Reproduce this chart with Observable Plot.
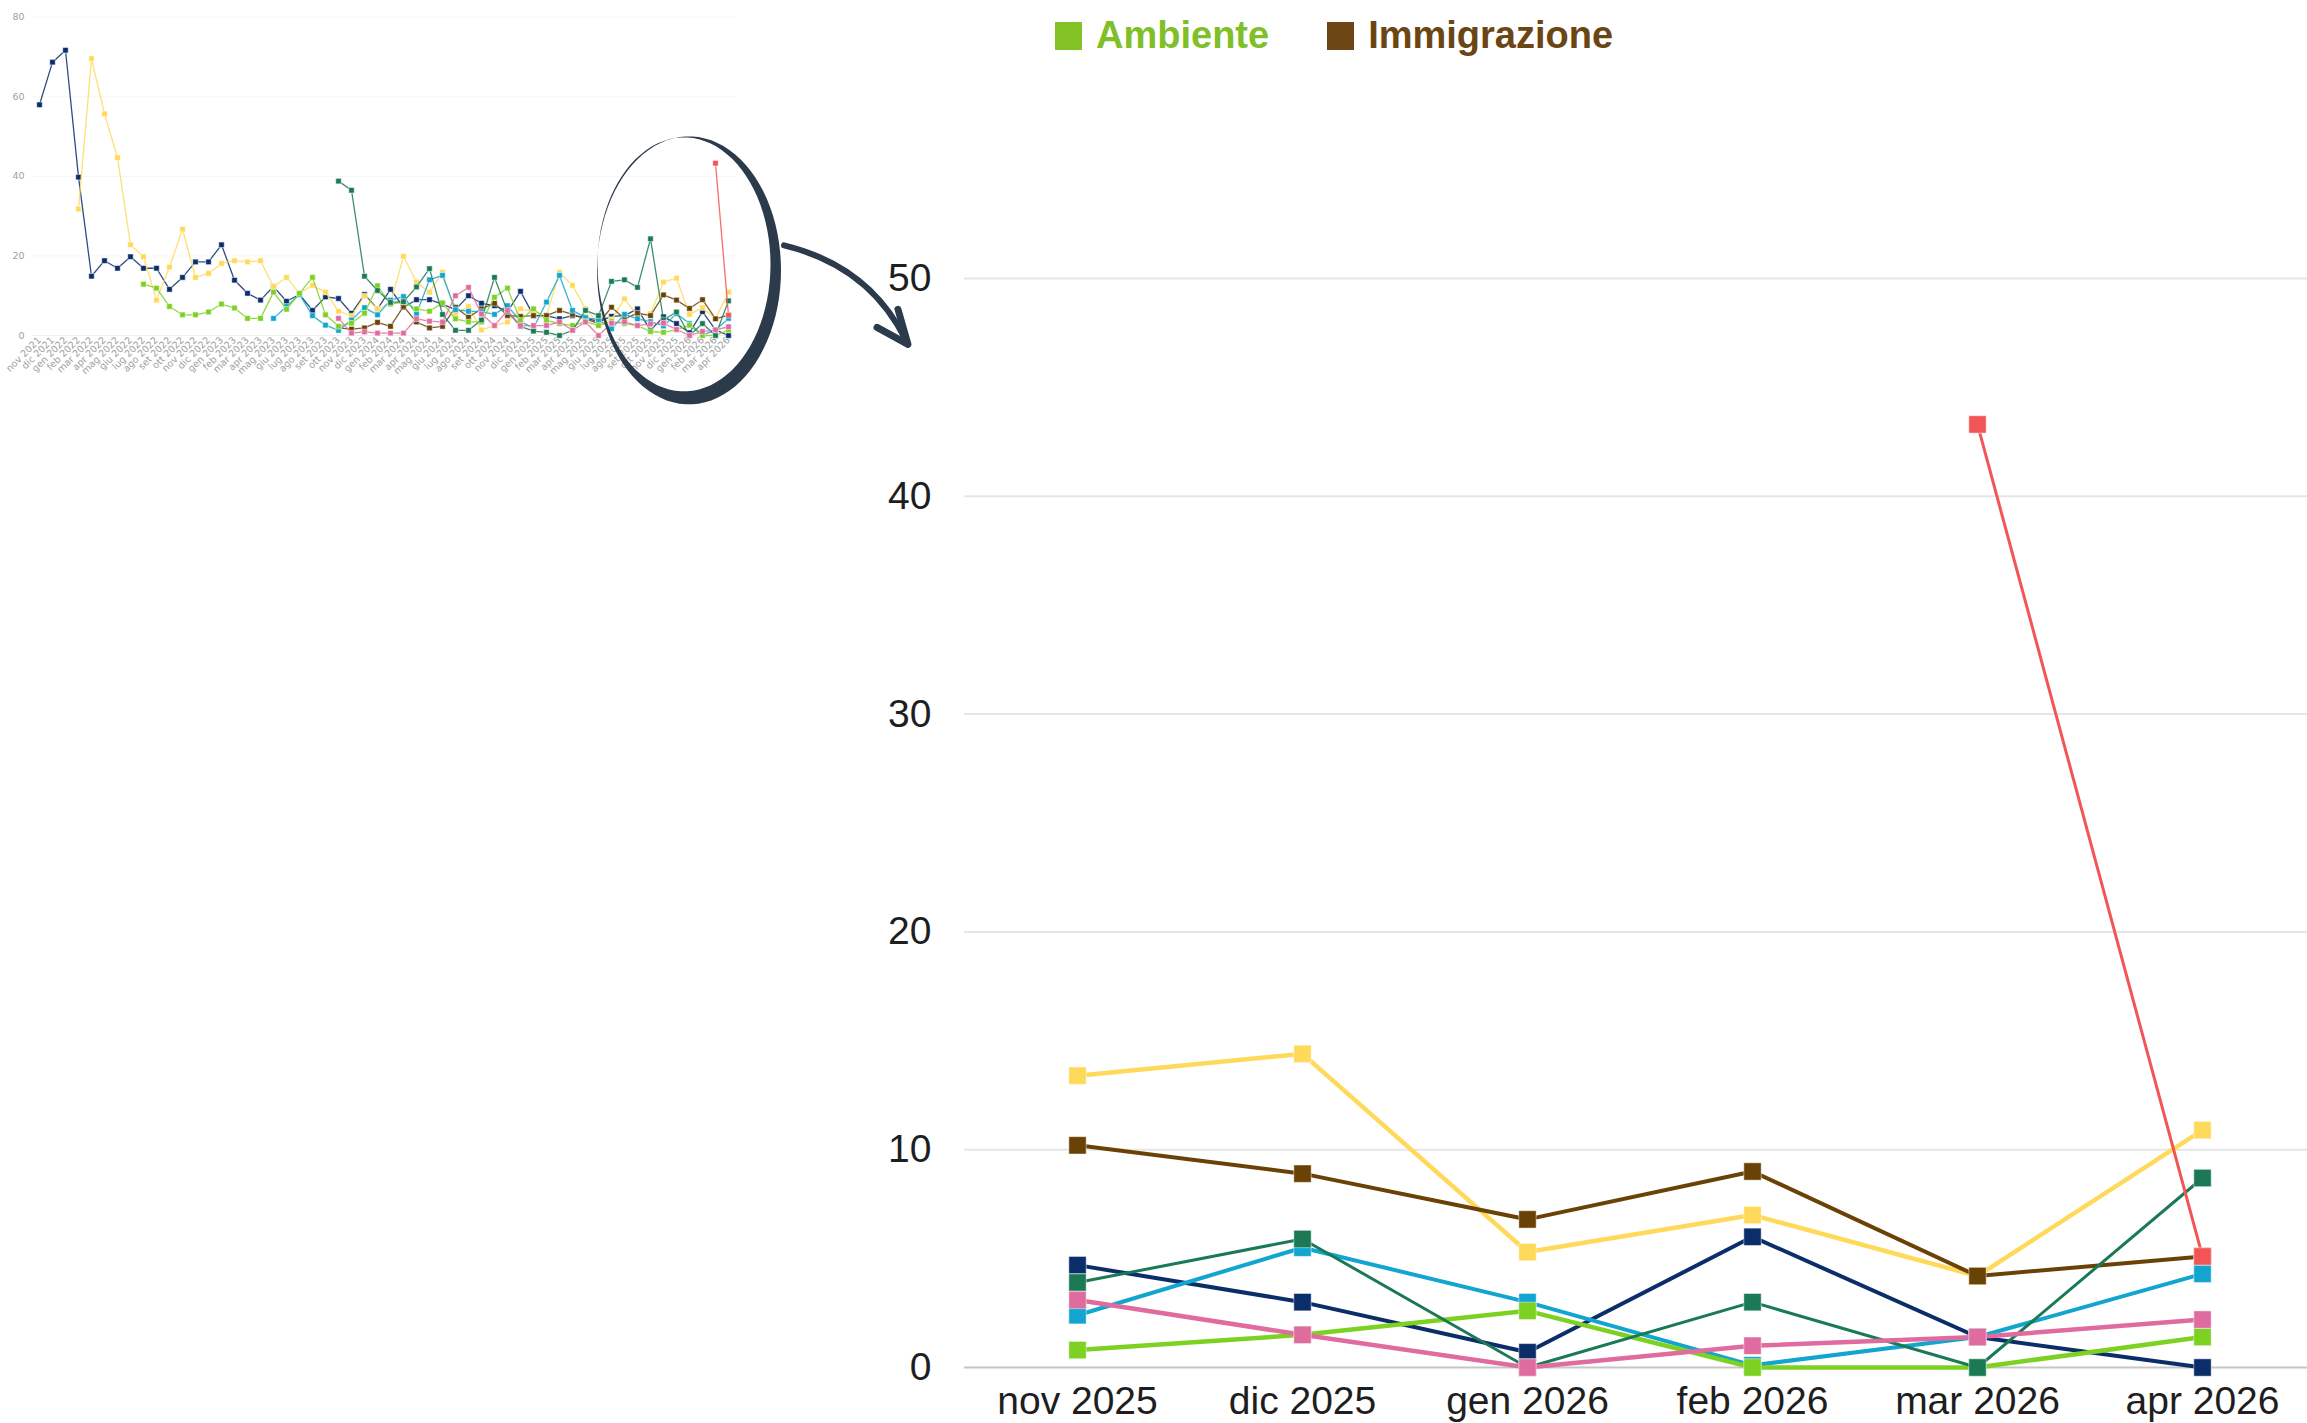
<!DOCTYPE html>
<html><head><meta charset="utf-8">
<script src="https://cdn.jsdelivr.net/npm/d3@7"></script>
<script src="https://cdn.jsdelivr.net/npm/@observablehq/plot@0.6"></script>
<style>
html,body{margin:0;padding:0;background:#fff;}
#wrap{position:relative;width:2307px;height:1423px;overflow:hidden;background:#fff;}
#legend{position:absolute;left:1055px;top:14px;display:flex;align-items:center;font-family:"Liberation Sans",Arial,sans-serif;font-weight:bold;font-size:38px;}
#legend .item{display:flex;align-items:center;margin-right:58px;}
#legend .sw{display:inline-block;width:27px;height:28px;margin-right:14px;}
#main{position:absolute;left:0;top:70px;}
#inset{position:absolute;left:0;top:0;}
#annot{position:absolute;left:0;top:0;pointer-events:none;}
</style>
</head><body>
<div id="wrap">
  <div id="main"></div>
  <div id="inset"></div>
  <div id="legend"></div>
</div>
<script>
// ---- DATA ----
const months = ["nov 2021","dic 2021","gen 2022","feb 2022","mar 2022","apr 2022","mag 2022","giu 2022","lug 2022","ago 2022","set 2022","ott 2022","nov 2022","dic 2022","gen 2023","feb 2023","mar 2023","apr 2023","mag 2023","giu 2023","lug 2023","ago 2023","set 2023","ott 2023","nov 2023","dic 2023","gen 2024","feb 2024","mar 2024","apr 2024","mag 2024","giu 2024","lug 2024","ago 2024","set 2024","ott 2024","nov 2024","dic 2024","gen 2025","feb 2025","mar 2025","apr 2025","mag 2025","giu 2025","lug 2025","ago 2025","set 2025","ott 2025","nov 2025","dic 2025","gen 2026","feb 2026","mar 2026","apr 2026"];
const zoomMonths = ["nov 2025","dic 2025","gen 2026","feb 2026","mar 2026","apr 2026"];
const yTicksMain = [0,10,20,30,40,50];
const yTicksInset = [0,20,40,60,80];

// each series: first month, then monthly values
const serieBluDa = "nov 2021";
const serieBlu = [58,68.7,71.7,39.8,14.9,18.8,16.9,19.8,16.9,16.9,11.6,14.6,18.5,18.5,22.8,13.9,10.6,8.9,12.3,8.6,10.3,6.3,9.7,9.3,5.6,10.3,6.7,11.6,7.1,9.0,9.0,7.9,6.5,10.0,8.1,7.5,6.0,11.1,5.0,5.0,4.2,5.0,4.5,3.4,4.8,5.0,6.7,1.3,4.7,3.0,0.7,6.0,1.4,0];
const serieGiallaDa = "feb 2022";
const serieGialla = [31.8,69.6,55.7,44.7,22.8,19.8,8.9,17.2,26.7,14.6,15.6,18.1,18.8,18.5,18.8,12.3,14.6,10.6,12.6,10.9,6.1,4.9,9.9,6.7,8.0,19.9,13.4,10.9,15.9,5.4,7.3,1.4,2.5,3.4,6.7,6.0,5.0,15.9,12.6,6.7,3.0,4.0,9.2,5.0,5.5,13.4,14.4,5.3,7.0,4.2,10.9];
const ambienteDa = "lug 2022";
const ambiente = [12.9,11.9,7.3,5.2,5.2,5.9,7.9,6.9,4.3,4.3,10.9,6.6,10.6,14.6,5.2,2.3,3.1,5.6,12.5,7.9,8.4,6.7,6.1,8.2,4.2,3.4,3.4,9.6,11.9,3.8,6.7,3.8,3.0,2.5,3.5,2.5,3.5,3.0,2.5,1.0,0.8,1.5,2.6,0,0,1.4];
const serieAzzurraDa = "mag 2023";
const serieAzzurra = [4.3,7.3,10.3,5.0,2.6,1.3,3.9,7.0,5.2,8.9,9.8,5.5,14.0,15.1,6.5,6.1,6.0,5.3,7.5,3.5,1.9,8.4,15.1,6.3,4.5,4.0,1.7,5.3,4.2,3.5,2.4,5.5,3.0,0.1,1.4,4.3];
const serieVerdeScuroDa = "ott 2023";
const serieVerdeScuro = [38.8,36.5,14.9,11.3,8.3,8.5,12.2,16.8,5.3,1.3,1.3,3.9,14.6,6.0,2.3,1.1,0.8,0,1.3,6.3,5.0,13.6,14.0,12.1,24.3,3.9,5.9,0,3.0,0,8.7];
const immigrazioneDa = "ott 2023";
const immigrazione = [1.9,1.6,1.9,3.3,2.3,7.3,3.4,1.9,2.3,7.1,4.6,6.7,8.1,5.0,4.8,5.0,5.0,6.3,5.3,4.2,3.0,7.1,4.2,5.6,5.0,10.2,8.9,6.8,9.0,4.2,5.1];
const serieRosaDa = "ott 2023";
const serieRosa = [4.3,0.6,0.9,0.6,0.6,0.6,4.2,3.6,3.4,10.0,12.1,5.4,2.5,6.3,2.5,2.5,2.5,3.4,1.3,3.4,0,3.1,3.4,2.5,2.9,3.1,1.5,0,1.0,1.4,2.2];
const serieRossaDa = "mar 2026";
const serieRossa = [43.3,5.1];

const legendNames = ["Ambiente","Immigrazione"];

// ---- STYLE ----
const seriesDefs = [
  {key:"blu", start:serieBluDa, values:serieBlu, color:"#0b2e6b", w:4},
  {key:"gialla", start:serieGiallaDa, values:serieGialla, color:"#ffd95a", w:4.5},
  {key:"Immigrazione", start:immigrazioneDa, values:immigrazione, color:"#6b4206", w:4},
  {key:"azzurra", start:serieAzzurraDa, values:serieAzzurra, color:"#12a5cf", w:4},
  {key:"Ambiente", start:ambienteDa, values:ambiente, color:"#7cd122", w:4.5},
  {key:"verdeScuro", start:serieVerdeScuroDa, values:serieVerdeScuro, color:"#1b7a55", w:3},
  {key:"rosa", start:serieRosaDa, values:serieRosa, color:"#e06b9f", w:4.5},
  {key:"rossa", start:serieRossaDa, values:serieRossa, color:"#f25555", w:3}
];
const legendColors = {"Ambiente":{sw:"#85c226", txt:"#80bf27"}, "Immigrazione":{sw:"#6b4513", txt:"#6b4513"}};

const rows = [];
for (const s of seriesDefs) {
  const i0 = months.indexOf(s.start);
  s.values.forEach((v, k) => rows.push({serie:s.key, month:months[i0+k], value:v}));
}

// ---- MAIN CHART ----
const mainRows = rows.filter(d => zoomMonths.includes(d.month));
const mainMarks = [
  Plot.ruleY(yTicksMain.filter(t => t > 0), {stroke:"#e6e6e6", strokeWidth:2}),
  Plot.ruleY([0], {stroke:"#c6c6c6", strokeWidth:2}),
  Plot.axisX({tickSize:0, tickPadding:19, label:null}),
  Plot.axisY({ticks:yTicksMain, tickSize:0, tickPadding:33, label:null})
];
for (const s of seriesDefs) {
  const d = mainRows.filter(r => r.serie === s.key);
  mainMarks.push(Plot.line(d, {x:"month", y:"value", stroke:s.color, strokeWidth:s.w}));
  mainMarks.push(Plot.dot(d, {x:"month", y:"value", symbol:"square", r:9.8, fill:s.color, stroke:"#ffffff", strokeWidth:0.8, strokeOpacity:0.6}));
}
const mainChart = Plot.plot({
  width:2307, height:1353,
  marginLeft:964, marginRight:0, marginTop:0, marginBottom:56,
  x:{type:"point", domain:zoomMonths, range:[1075, 2203], padding:0},
  y:{domain:[0,50], range:[1297, 208]},
  style:{fontFamily:"'Liberation Sans', Arial, sans-serif", fontSize:"39px", color:"#1e1e1e", background:"transparent"},
  marks:mainMarks
});
document.getElementById("main").appendChild(mainChart);

// ---- INSET (full series thumbnail) ----
const insetMarks = [
  Plot.ruleY(yTicksInset.filter(t => t > 0), {stroke:"#f6f6f6"}),
  Plot.ruleY([0], {stroke:"#efefef"}),
  Plot.axisX({tickSize:0, tickPadding:3, tickRotate:-45, label:null}),
  Plot.axisY({ticks:yTicksInset, tickSize:0, tickPadding:8, label:null})
];
for (const s of seriesDefs) {
  const d = rows.filter(r => r.serie === s.key);
  insetMarks.push(Plot.line(d, {x:"month", y:"value", stroke:s.color, strokeWidth:1.3, strokeOpacity:0.85}));
  insetMarks.push(Plot.dot(d, {x:"month", y:"value", symbol:"square", r:3.1, fill:s.color, stroke:"#ffffff", strokeWidth:0.5}));
}
const inset = Plot.plot({
  width:760, height:420,
  marginLeft:32, marginRight:25, marginTop:10, marginBottom:85,
  x:{type:"point", domain:months, range:[38.7, 727.7], padding:0},
  y:{domain:[0,80], range:[335, 16.7]},
  style:{fontFamily:"'DejaVu Sans', Verdana, sans-serif", fontSize:"9.5px", color:"#a0a0a0", background:"transparent"},
  marks:insetMarks
});
document.getElementById("inset").appendChild(inset);

// ---- LEGEND ----
const leg = document.getElementById("legend");
for (const n of legendNames) {
  const it = document.createElement("span"); it.className = "item";
  const sw = document.createElement("span"); sw.className = "sw"; sw.style.background = legendColors[n].sw;
  const tx = document.createElement("span"); tx.textContent = n; tx.style.color = legendColors[n].txt;
  it.appendChild(sw); it.appendChild(tx); leg.appendChild(it);
}

// ---- ANNOTATION (circle around last months of inset + arrow) ----
const sx = inset.scale("x"), sy = inset.scale("y");
const cx = sx.apply("gen 2026") - 3, cy = sy.apply(17);
const svg = d3.select("#wrap").append("svg").attr("id","annot").attr("width",2307).attr("height",1423);
function ell(x, y, rx, ry, p) {
  p.moveTo(x + rx, y);
  const n = 90;
  for (let k = 1; k <= n; k++) {
    const a = 2 * Math.PI * k / n;
    p.lineTo(x + rx * Math.cos(a), y + ry * Math.sin(a));
  }
  p.closePath();
}
const p = d3.path();
ell(cx + 3, cy + 3, 92, 134, p);
ell(cx - 2, cy - 3, 86.5, 127, p);
svg.append("path").attr("d", p.toString()).attr("fill", "#2c3b4c").attr("fill-rule", "evenodd");
const ax0 = cx + 98, ay0 = cy - 22;
svg.append("path")
  .attr("d", `M${ax0},${ay0} C${ax0+50},${ay0+12} ${ax0+95},${ay0+40} ${ax0+122},${ay0+95}`)
  .attr("fill","none").attr("stroke","#2c3b4c").attr("stroke-width",6).attr("stroke-linecap","round");
svg.append("path")
  .attr("d", `M${ax0+93},${ay0+82} L${ax0+124},${ay0+99} L${ax0+114},${ay0+64}`)
  .attr("fill","none").attr("stroke","#2c3b4c").attr("stroke-width",7).attr("stroke-linecap","round").attr("stroke-linejoin","round");
</script>
</body></html>
